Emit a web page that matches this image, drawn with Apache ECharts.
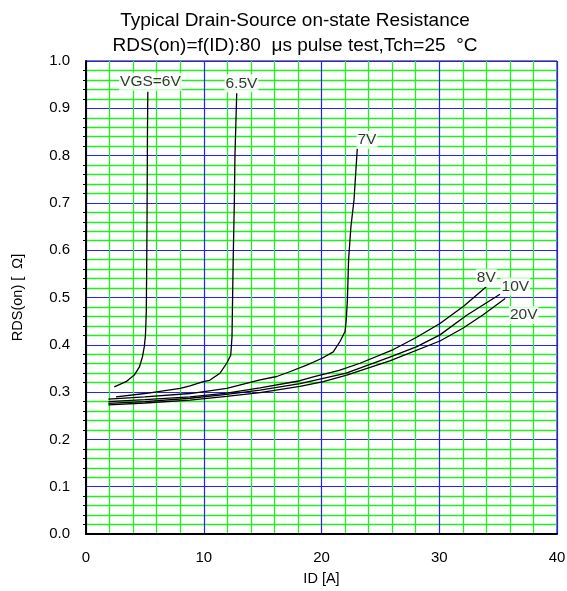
<!DOCTYPE html>
<html><head><meta charset="utf-8">
<script src="https://cdn.jsdelivr.net/npm/echarts@6/dist/echarts.min.js"></script>
<style>html,body{margin:0;padding:0;background:#fff;}#c{width:567px;height:591px;}</style>
</head><body><div id="c"></div>
<script>
const titleLines = ['Typical Drain-Source on-state Resistance', 'RDS(on)=f(ID):80  \u03bcs pulse test,Tch=25  \u00b0C'];
const xName = 'ID [A]';
const yName = 'RDS(on) [  \u03a9]';
const seriesNames = ['VGS=6V', '6.5V', '7V', '8V', '10V', '20V'];
const v6 = [[2.4,0.311],[3.4,0.322],[4.1,0.336],[4.55,0.354],[4.8,0.375],[4.95,0.396],[5.05,0.42],[5.12,0.47],[5.15,0.55],[5.18,0.65],[5.2,0.75],[5.22,0.85],[5.25,0.935]];
const v65 = [[2.55,0.290],[5,0.297],[8,0.308],[8.83,0.313],[9.96,0.322],[10.5,0.325],[11.38,0.340],[11.95,0.361],[12.29,0.378],[12.4,0.417],[12.45,0.5],[12.5,0.58],[12.6,0.706],[12.65,0.8],[12.8,0.932]];
const v7 = [[1.9,0.285],[5,0.290],[8.83,0.297],[11.95,0.308],[14.78,0.326],[16.2,0.333],[17.3,0.343],[18.74,0.357],[20,0.371],[21,0.385],[21.57,0.407],[22,0.428],[22.1,0.452],[22.2,0.495],[22.3,0.58],[22.5,0.65],[22.76,0.706],[23.04,0.815]];
const v8 = [[1.9,0.280],[5,0.284],[8.83,0.290],[11.95,0.298],[14.78,0.309],[18.17,0.324],[19.3,0.332],[21.5,0.346],[23.27,0.361],[26.1,0.390],[28.08,0.416],[30.06,0.445],[32.04,0.481],[33.97,0.522]];
const v10 = [[1.9,0.276],[5,0.280],[8.83,0.287],[11.95,0.295],[14.78,0.304],[18.17,0.318],[22.1,0.340],[25.8,0.374],[28.1,0.396],[30.06,0.421],[32.3,0.462],[35.16,0.507]];
const v20 = [[1.9,0.273],[5,0.277],[8.83,0.283],[11.95,0.291],[14.78,0.299],[18.17,0.312],[20.15,0.322],[22.14,0.336],[25.8,0.366],[30.06,0.408],[32,0.435],[33.7,0.463],[35.6,0.498]];
const curves = [v6, v65, v7, v8, v10, v20];
const labelPos = [[5.47,0.956],[13.2,0.953],[23.86,0.833],[34.0,0.541],[36.46,0.523],[37.17,0.463]];

const chart = echarts.init(document.getElementById('c'), null, {renderer:'canvas'});
const font = 'Liberation Sans, Arial, sans-serif';
const series = curves.map((d,i)=>({
  type:'line', name:seriesNames[i], data:d, showSymbol:false, symbol:'none',
  lineStyle:{color:'#000', width:1.3}, z:5, silent:true
}));
series.push({
  type:'scatter', symbolSize:0, z:6, silent:true,
  data: labelPos.map((p,i)=>({value:p, name:seriesNames[i]})),
  label:{show:true, position:'inside', formatter:p=>p.name, color:'#000', fontSize:15.5, fontFamily:font,
    backgroundColor:'#fff', padding:[1,1]}
});
chart.setOption({
  animation:false,
  backgroundColor:'#fff',
  title:{text:titleLines.join('\n'), left:290, top:3, textAlign:'center',
    textStyle:{fontSize:19, fontWeight:'normal', color:'#000', fontFamily:font, lineHeight:25}},
  grid:{left:86, right:10, top:61, bottom:57, outerBoundsMode:'none', containLabel:false,
    show:true, borderColor:'#000', borderWidth:1, backgroundColor:'transparent'},
  xAxis:{type:'value', min:0, max:40, interval:10,
    name:xName, nameLocation:'middle', nameGap:37, nameTextStyle:{fontSize:14.5, color:'#000', fontFamily:font},
    axisLine:{show:true, lineStyle:{color:'#000', width:2}},
    axisTick:{show:false},
    axisLabel:{fontSize:15, color:'#000', margin:16, fontFamily:font},
    splitLine:{show:true, lineStyle:{color:'#2222ff', width:1.2}},
    minorTick:{show:false, splitNumber:5},
    minorSplitLine:{show:true, lineStyle:{color:'#22ee22', width:1.3}}
  },
  yAxis:{type:'value', min:0, max:1, interval:0.1,
    name:yName, nameLocation:'middle', nameGap:61, nameRotate:90, nameTextStyle:{fontSize:14.5, color:'#000', fontFamily:font},
    axisLine:{show:true, lineStyle:{color:'#000', width:2}},
    axisTick:{show:false},
    axisLabel:{fontSize:15, color:'#000', margin:16, fontFamily:font, formatter:v=>v.toFixed(1)},
    splitLine:{show:true, lineStyle:{color:'#2222ff', width:1.2}},
    minorTick:{show:true, splitNumber:5, length:3, inside:true, lineStyle:{color:'#000'}},
    minorSplitLine:{show:true, lineStyle:{color:'#22ee22', width:1.3}}
  },
  series:series
});
</script></body></html>
